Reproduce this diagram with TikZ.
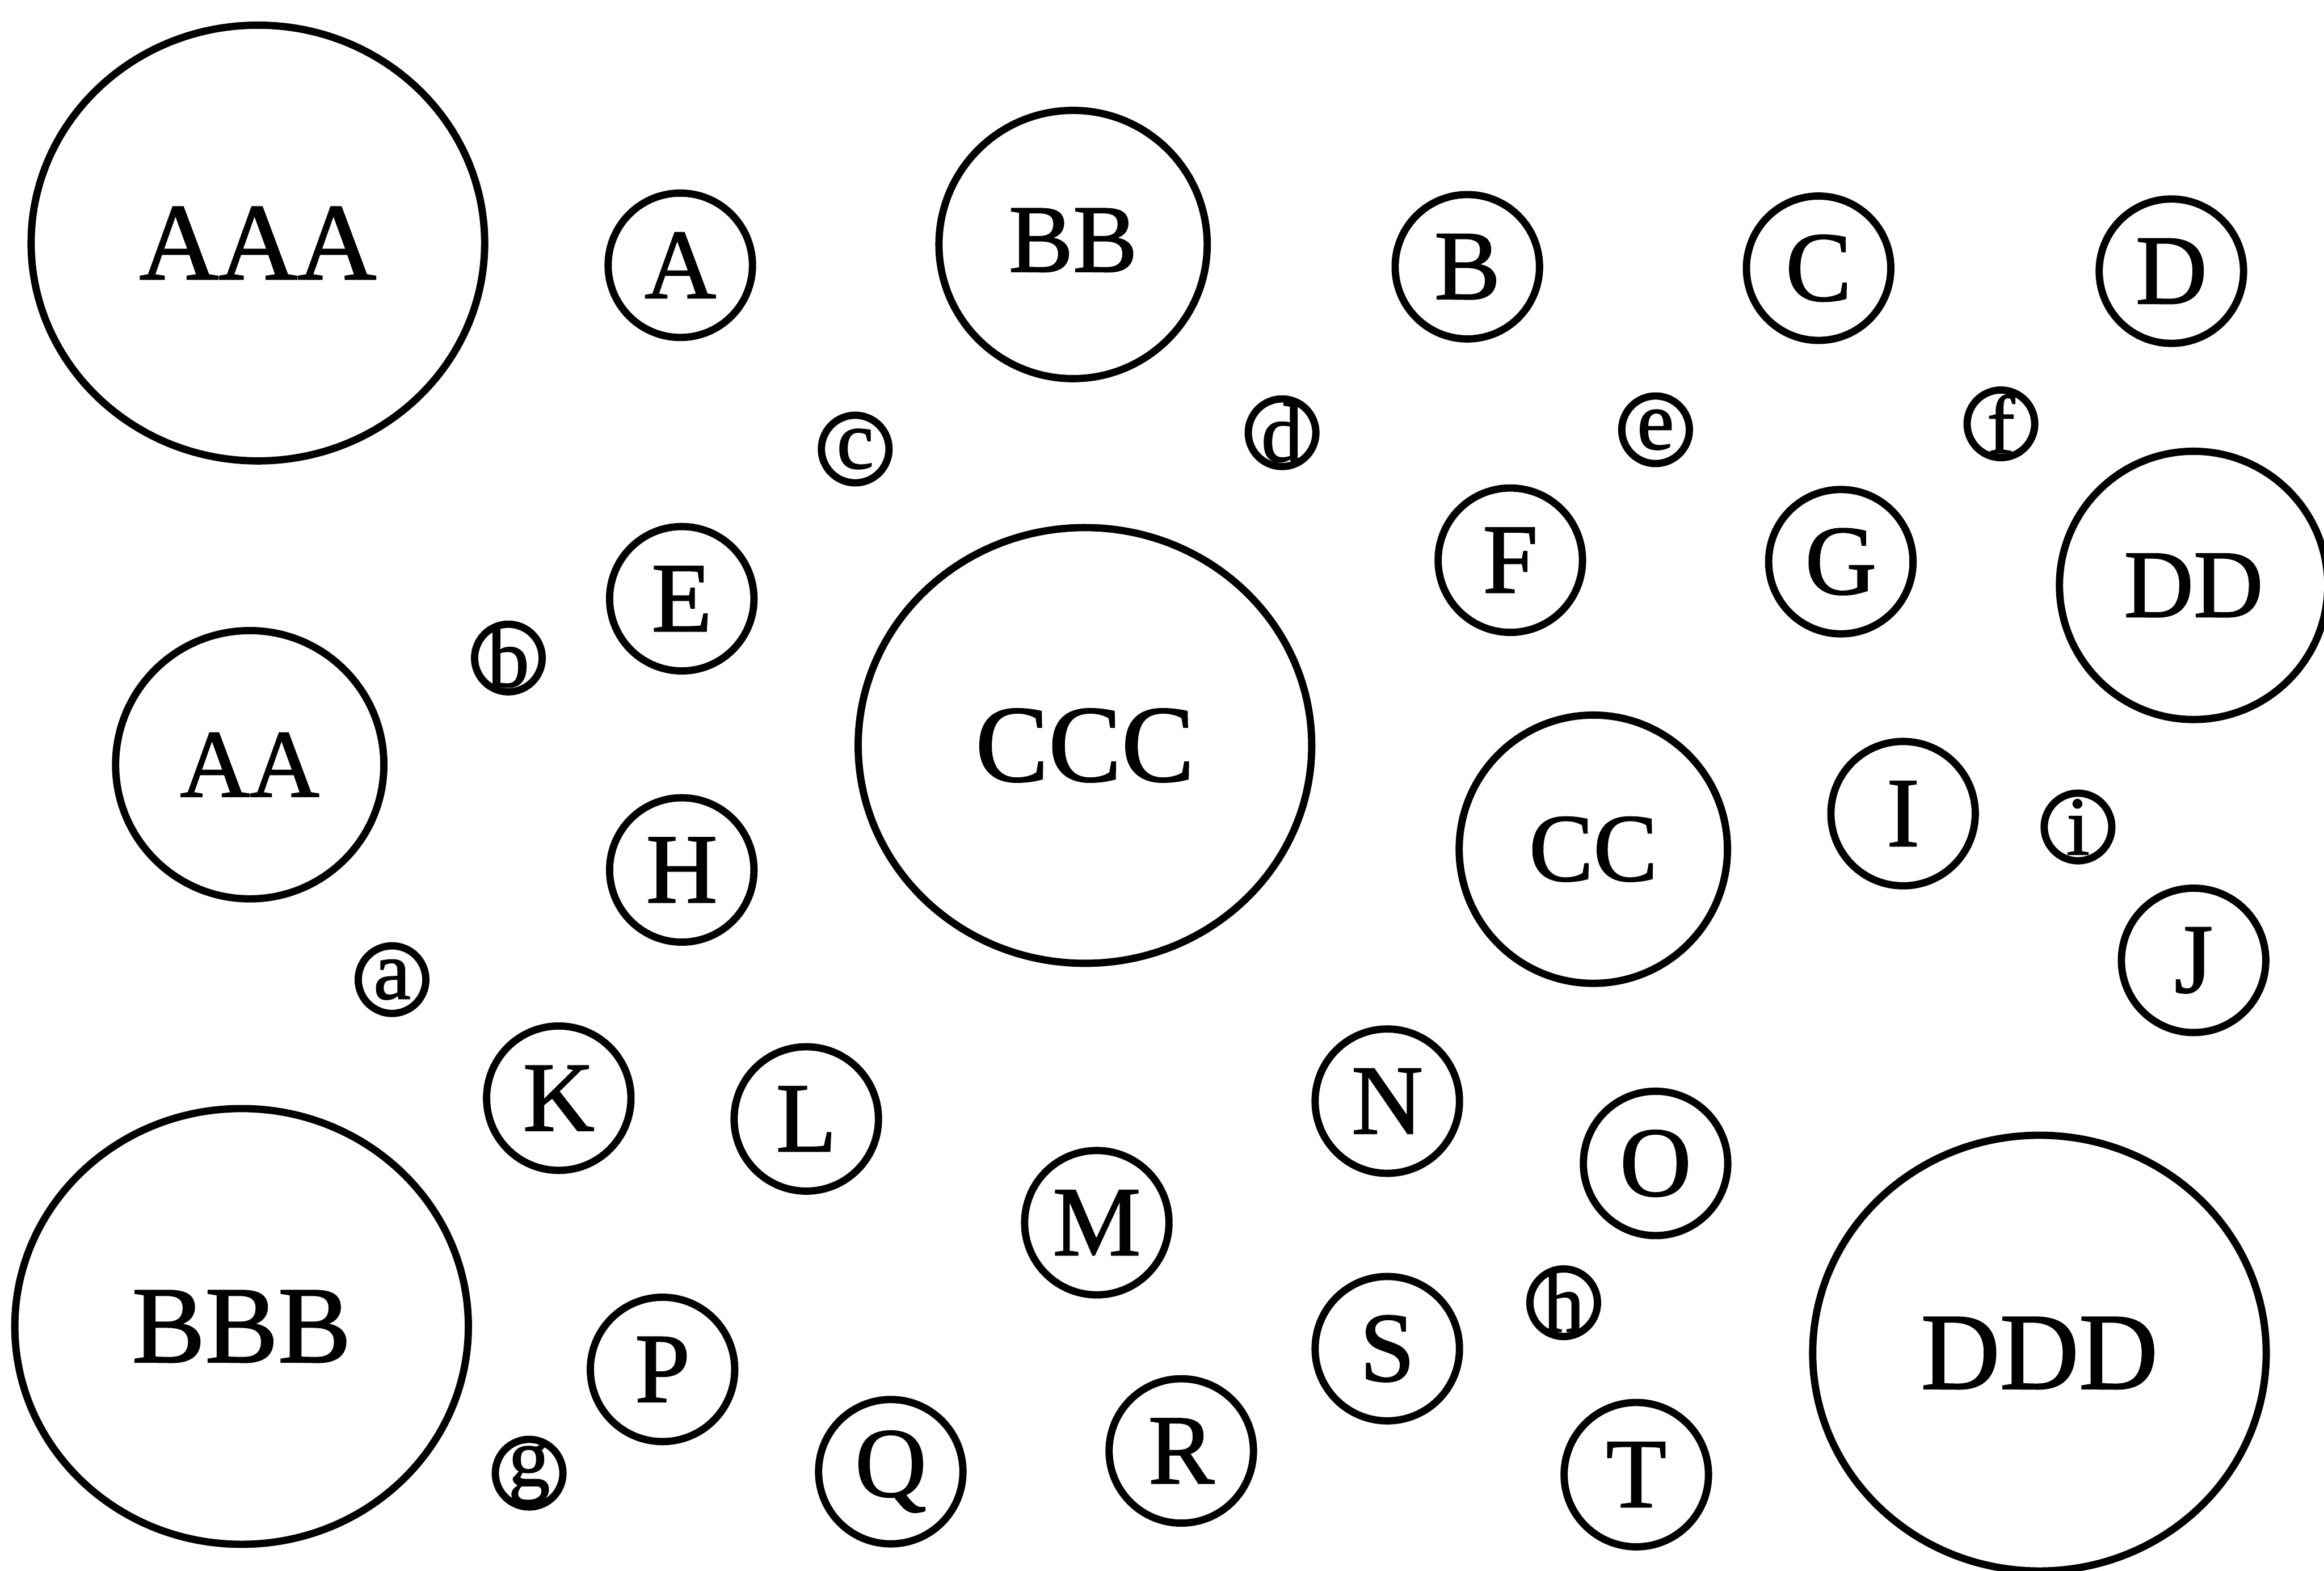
\documentclass[tikz,border=0pt]{standalone}
\usepackage{fontspec}
\setmainfont{Liberation Serif}[FakeBold=1.3]
\usetikzlibrary{shapes.geometric}

\tikzset{
  ring/.style={draw, line width=1.4pt, inner sep=0pt},
  small/.style={ring, circle, minimum size=4.56mm, inner sep=-3pt, font=\fontsize{16}{16}\selectfont},
  one/.style={ring, circle, minimum size=9.74mm, font=\fontsize{19}{19}\selectfont},
  two/.style={ring, circle, minimum size=18.1mm, font=\fontsize{18.5}{18.5}\selectfont},
  three/.style={ring, ellipse, minimum width=30.6mm, minimum height=29.4mm, font=\fontsize{21}{21}\selectfont}
}

\begin{document}
\begin{tikzpicture}

\useasboundingbox (0,0) rectangle (15.68,10.60);

% big ones
\node[three] (AAA) at (1.74,8.96) {AAA};
\node[three] (CCC) at (7.32,5.57) {CCC};
\node[three] (BBB) at (1.63,1.65) {BBB};
\node[three] (DDD) at (13.76,1.47) {DDD};

% middle ones
\node[two] (BB) at (7.24,8.95) {\raisebox{0.6mm}{BB}};
\node[two] (DD) at (14.80,6.65) {DD};
\node[two] (AA) at (1.685,5.44) {AA};
\node[two] (CC) at (10.75,4.87) {CC};

% top rows
\node[one] (A) at (4.59,8.81) {A};
\node[one] (B) at (9.90,8.80) {B};
\node[one] (C) at (12.27,8.79) {C};
\node[one] (D) at (14.65,8.77) {D};
\node[one] (E) at (4.60,6.56) {E};
\node[one] (F) at (10.19,6.82) {F};
\node[one] (G) at (12.42,6.81) {G};

% middle rows
\node[one] (H) at (4.60,4.73) {H};
\node[one] (I) at (12.84,5.11) {I};
\node[one] (J) at (14.80,4.12) {J};
\node[one] (K) at (3.77,3.19) {K};
\node[one] (L) at (5.44,3.05) {L};
\node[one] (M) at (7.40,2.35) {M};
\node[one] (N) at (9.36,3.17) {N};
\node[one] (O) at (11.17,2.75) {O};

% bottom rows
\node[one] (P) at (4.47,1.36) {P};
\node[one] (Q) at (6.01,0.67) {Q};
\node[one] (R) at (7.97,0.81) {R};
\node[one] (S) at (9.36,1.50) {S};
\node[one] (T) at (11.04,0.65) {T};

% small ones
\node[small] (la) at (2.645,3.99) {a};
\node[small] (lb) at (3.43,6.16) {b};
\node[small] (lc) at (5.77,7.57) {c};
\node[small] (ld) at (8.65,7.68) {d};
\node[small] (le) at (11.17,7.70) {e};
\node[small] (lf) at (13.50,7.74) {f};
\node[small] (lg) at (3.57,0.66) {g};
\node[small] (lh) at (10.55,1.81) {h};
\node[small] (li) at (14.02,5.02) {i};

\end{tikzpicture}
\end{document}
